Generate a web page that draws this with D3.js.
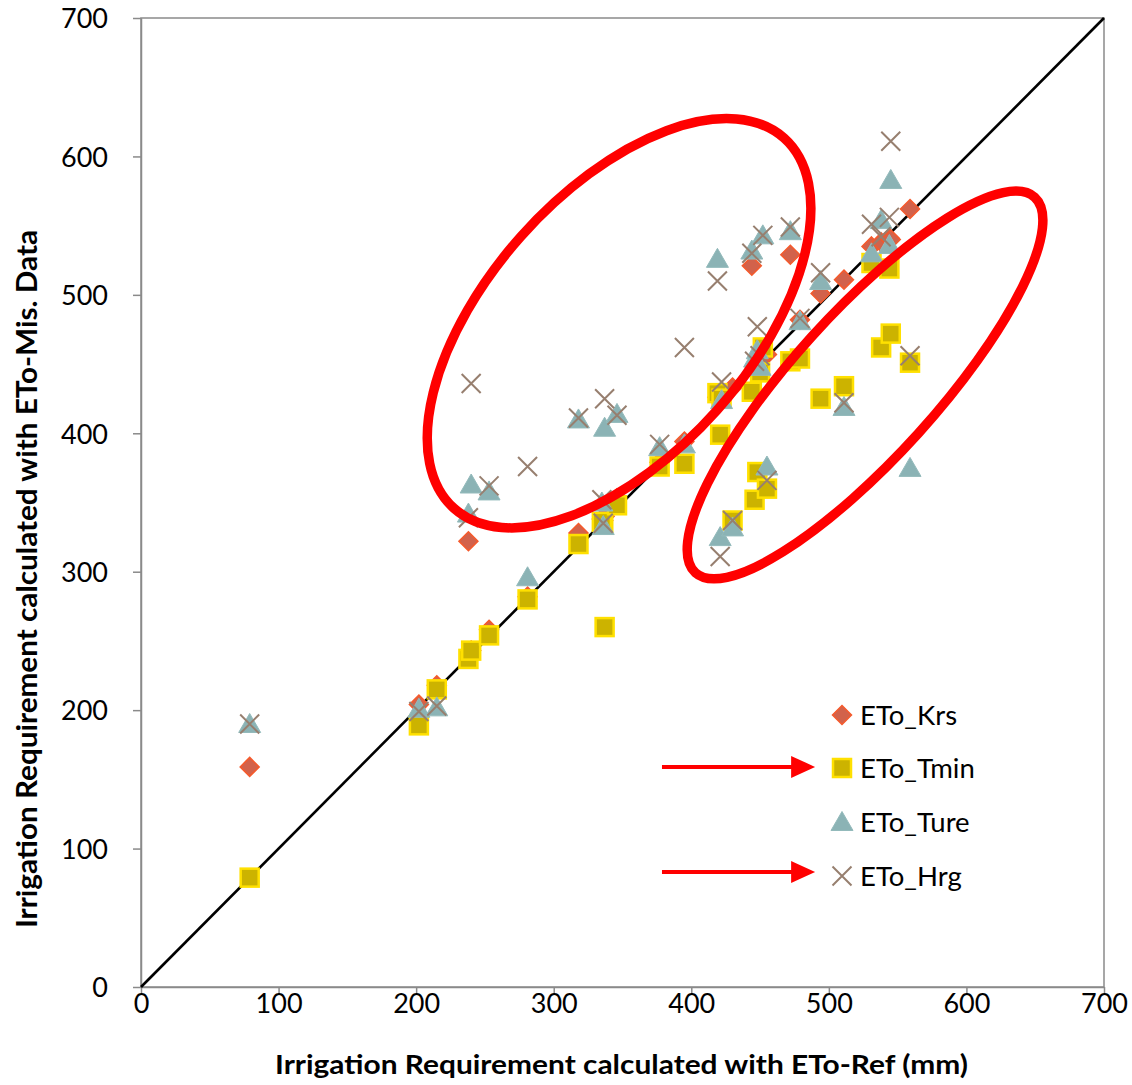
<!DOCTYPE html>
<html>
<head>
<meta charset="utf-8">
<script src="https://cdn.jsdelivr.net/npm/d3@7/dist/d3.min.js"></script>
<style>
  html, body { margin: 0; padding: 0; background: #ffffff; }
  svg { display: block; }
  text { font-family: Lato, "Open Sans", "Liberation Sans", sans-serif; fill: #000; }
</style>
</head>
<body>
<svg id="chart" width="1132" height="1085"></svg>
<script>
// ---------------- data ----------------
const seriesNames = ["ETo_Krs", "ETo_Tmin", "ETo_Ture", "ETo_Hrg"];
const etoRef = [79,202,215,238,240,253,281,318,336,337,335,346,377,395,419,421,422,430,444,446,448,452,455,450,472,479,494,511,531,538,544,545,559];
const etoKrs = [159,204,218,322,243,258,282,328,337,340,338,353,379,394,426,428,430,433,521,448,450,458,457,453,529,482,501,511,535,538,541,540,562];
const etoTmin = [79,189,215,237,243,254,280,320,335,260,336,348,376,378,429,399,425,337,430,352,372,462,360,444,452,454,425,434,523,462,519,472,451];
const etoTure = [190,201,202,342,363,358,296,410,333,404,350,414,390,392,526,325,424,332,532,454,460,543,376,448,546,481,510,419,530,554,536,583,375];
const etoHrg = [190,199,203,339,436,362,376,411,335,425,352,413,392,462,510,311,437,337,530,452,477,543,366,456,549,483,516,422,551,542,556,611,456];
const xTicks = [0,100,200,300,400,500,600,700];
const yTicks = [0,100,200,300,400,500,600,700];
const xTitle = "Irrigation Requirement calculated with ETo-Ref (mm)";
const yTitle = "Irrigation Requirement calculated with ETo-Mis. Data";
// annotations (data coordinates)
const ellipseCenters = [[347.5, 479.5], [526.3, 434.9]];
const arrowYs = [159, 83];
const arrowX = [378.7, 490];

// ---------------- layout ----------------
const svg = d3.select("#chart");
const x = d3.scaleLinear().domain([0, 700]).range([141, 1104]);
const y = d3.scaleLinear().domain([0, 700]).range([987, 18]);
const axisColor = "#8a8a8a";

// plot border
svg.append("rect")
  .attr("x", x(0)).attr("y", y(700))
  .attr("width", x(700) - x(0)).attr("height", y(0) - y(700))
  .attr("fill", "none").attr("stroke", axisColor).attr("stroke-width", 1.5);

// axes
const gx = svg.append("g").attr("transform", `translate(0,${y(0)})`)
  .call(d3.axisBottom(x).tickValues(xTicks).tickSize(8).tickSizeOuter(0));
gx.selectAll("text").attr("y", 26).attr("dy", null)
  .style("font-size", "27px");
const gy = svg.append("g").attr("transform", `translate(${x(0)},0)`)
  .call(d3.axisLeft(y).tickValues(yTicks).tickSize(8).tickSizeOuter(0).tickPadding(25));
gy.selectAll("text").attr("dy", "0.36em").style("font-size", "27px");
[gx, gy].forEach(g => {
  g.selectAll(".domain").attr("stroke", axisColor).attr("stroke-width", 1.5);
  g.selectAll(".tick line").attr("stroke", axisColor).attr("stroke-width", 1.5);
  g.attr("font-family", null).attr("font-size", null);
});

// 1:1 line
svg.append("line")
  .attr("x1", x(0)).attr("y1", y(0)).attr("x2", x(700)).attr("y2", y(700))
  .attr("stroke", "#000").attr("stroke-width", 2.6);

// marker painters
const markers = {
  diamond: (g, cx, cy) => g.append("path")
    .attr("d", `M${cx},${cy-9.5}L${cx+9.5},${cy}L${cx},${cy+9.5}L${cx-9.5},${cy}Z`)
    .attr("fill", "#D2624B").attr("stroke", "#F55A2C").attr("stroke-width", 1.5),
  square: (g, cx, cy) => g.append("rect")
    .attr("x", cx - 9).attr("y", cy - 9).attr("width", 18).attr("height", 18)
    .attr("fill", "#CCB300").attr("stroke", "#FFE000").attr("stroke-width", 2.5),
  triangle: (g, cx, cy) => g.append("path")
    .attr("d", `M${cx},${cy-10.5}L${cx+11},${cy+8.5}L${cx-11},${cy+8.5}Z`)
    .attr("fill", "#8BB3B5").attr("stroke", "#93BABB").attr("stroke-width", 1),
  cross: (g, cx, cy) => g.append("path")
    .attr("d", `M${cx-9.5},${cy-9.5}L${cx+9.5},${cy+9.5}M${cx+9.5},${cy-9.5}L${cx-9.5},${cy+9.5}`)
    .attr("fill", "none").attr("stroke", "#977F6F").attr("stroke-width", 2)
};
const seriesDefs = [
  { values: etoKrs, marker: "diamond" },
  { values: etoTmin, marker: "square" },
  { values: etoTure, marker: "triangle" },
  { values: etoHrg, marker: "cross" }
];

const gPts = svg.append("g");
seriesDefs.forEach(s => {
  const gs = gPts.append("g");
  etoRef.forEach((r, i) => markers[s.marker](gs, x(r), y(s.values[i])));
});

// red ellipses
const ellipseShapes = [
  { rx: 248, ry: 131, angle: -48.3 },
  { rx: 253, ry: 72, angle: -47.9 }
];
ellipseCenters.forEach((c, i) => {
  const e = ellipseShapes[i];
  svg.append("ellipse")
    .attr("cx", x(c[0])).attr("cy", y(c[1]))
    .attr("rx", e.rx).attr("ry", e.ry)
    .attr("transform", `rotate(${e.angle},${x(c[0])},${y(c[1])})`)
    .attr("fill", "none").attr("stroke", "#FF0000").attr("stroke-width", 9.5);
});

// red arrows
arrowYs.forEach(v => {
  const yy = y(v), x0 = x(arrowX[0]), x1 = x(arrowX[1]);
  svg.append("line").attr("x1", x0).attr("y1", yy).attr("x2", x1 - 14).attr("y2", yy)
    .attr("stroke", "#FF0000").attr("stroke-width", 4);
  svg.append("path").attr("d", `M${x1},${yy}L${x1-24},${yy-11}L${x1-24},${yy+11}Z`)
    .attr("fill", "#FF0000");
});

// legend
const legendRows = [715, 768, 822, 876];
const legendMarkers = ["diamond", "square", "triangle", "cross"];
seriesNames.forEach((name, i) => {
  const g = svg.append("g");
  markers[legendMarkers[i]](g, 842, legendRows[i]);
  g.append("text").attr("x", 860).attr("y", legendRows[i]).attr("dy", "0.36em")
    .style("font-size", "27.5px").text(name);
});

// axis titles
svg.append("text")
  .attr("x", 621.5).attr("y", 1074).attr("text-anchor", "middle")
  .attr("textLength", 693).attr("lengthAdjust", "spacingAndGlyphs")
  .style("font-size", "27px").style("font-weight", "bold").text(xTitle);
svg.append("text")
  .attr("transform", "translate(37,579) rotate(-90)")
  .attr("text-anchor", "middle")
  .attr("textLength", 698).attr("lengthAdjust", "spacingAndGlyphs")
  .style("font-size", "28px").style("font-weight", "bold").text(yTitle);
</script>
</body>
</html>
